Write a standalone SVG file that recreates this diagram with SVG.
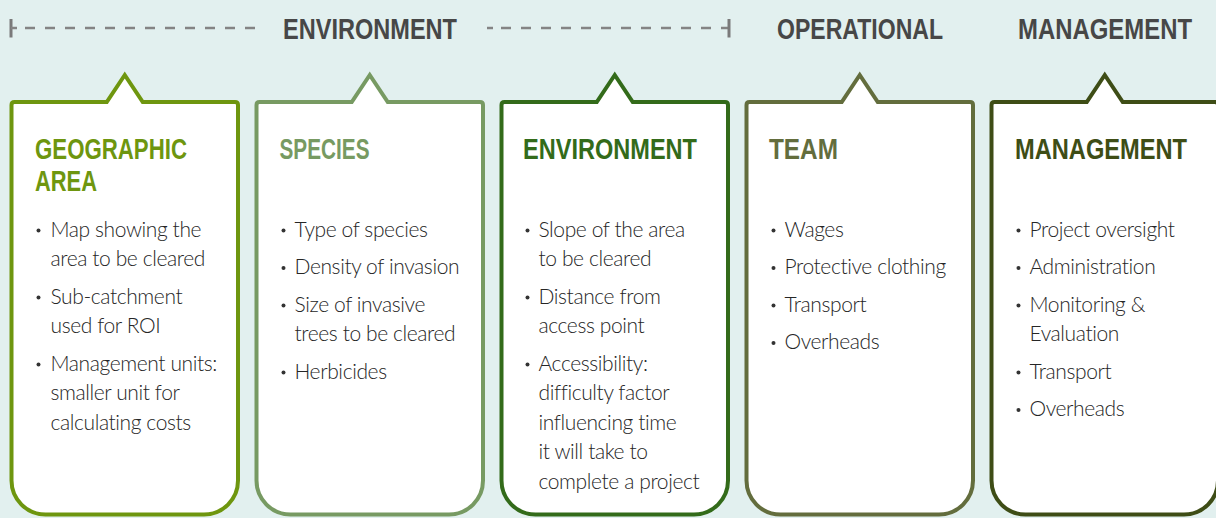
<svg xmlns="http://www.w3.org/2000/svg" width="1216" height="518" viewBox="0 0 1216 518">
  <style>
    .hdr { font-family: "Liberation Sans Narrow", "Liberation Sans", Arial, sans-serif; font-weight: bold; font-size: 29px; fill: #474747; }
    .ttl { font-family: "Liberation Sans Narrow", "Liberation Sans", Arial, sans-serif; font-weight: bold; font-size: 29px; }
    .txt { font-family: "Lato", "Open Sans", "Liberation Sans", sans-serif; font-weight: 300; font-size: 21px; letter-spacing: -0.4px; fill: #262626; }
    .card { fill: #ffffff; stroke-width: 4; stroke-linejoin: miter; }
    .dash { stroke: #848484; stroke-width: 2.5; fill: none; }
    .tick { stroke: #7a7a7a; stroke-width: 3; }
    .dot { fill: #333333; }
  </style>
  <defs>
    <!-- callout card: 226.5 wide, pointer tip on top centre -->
    <path id="card" d="M3,102 H95.25 L113.25,75 L131.25,102 H223.5 Q226.5,102 226.5,105 V480.5 A34 34 0 0 1 192.5,514.5 H34 A34 34 0 0 1 0,480.5 V105 Q0,102 3,102 Z"/>
  </defs>

  <rect width="1216" height="518" fill="#e2f0ef"/>

  <!-- header bands -->
  <g id="connectors">
    <line class="tick" x1="11" y1="19" x2="11" y2="37.5"/>
    <line class="dash" x1="11" y1="28" x2="17" y2="28"/>
    <line class="dash" x1="25" y1="28" x2="255" y2="28" stroke-dasharray="10 10"/>
    <line class="dash" x1="487" y1="28" x2="493" y2="28"/>
    <line class="dash" x1="501" y1="28" x2="729" y2="28" stroke-dasharray="10 10"/>
    <line class="tick" x1="729" y1="19" x2="729" y2="37.5"/>
  </g>
  <g id="headers">
    <text class="hdr" x="283" y="38.5" textLength="174" lengthAdjust="spacingAndGlyphs">ENVIRONMENT</text>
    <text class="hdr" x="777" y="38.5" textLength="166" lengthAdjust="spacingAndGlyphs">OPERATIONAL</text>
    <text class="hdr" x="1018" y="38.5" textLength="174" lengthAdjust="spacingAndGlyphs">MANAGEMENT</text>
  </g>

  <!-- Geographic area -->
  <g id="node-geographic" transform="translate(11.5,0)">
    <use href="#card" class="card" stroke="#6e960f"/>
    <text class="ttl" fill="#6e960f" x="23.5" y="158.5" textLength="152" lengthAdjust="spacingAndGlyphs">GEOGRAPHIC</text>
    <text class="ttl" fill="#6e960f" x="23.5" y="191" textLength="62" lengthAdjust="spacingAndGlyphs">AREA</text>
    <circle class="dot" cx="27" cy="230.5" r="2"/>
    <text class="txt" x="39" y="236.5">Map showing the</text>
    <text class="txt" x="39" y="266">area to be cleared</text>
    <circle class="dot" cx="27" cy="297.5" r="2"/>
    <text class="txt" x="39" y="303.5">Sub-catchment</text>
    <text class="txt" x="39" y="333">used for ROI</text>
    <circle class="dot" cx="27" cy="364.5" r="2"/>
    <text class="txt" x="39" y="370.5">Management units:</text>
    <text class="txt" x="39" y="400">smaller unit for</text>
    <text class="txt" x="39" y="429.5">calculating costs</text>
  </g>

  <!-- Species -->
  <g id="node-species" transform="translate(256.5,0)">
    <use href="#card" class="card" stroke="#779a62"/>
    <text class="ttl" fill="#779a62" x="23" y="158.5" textLength="90" lengthAdjust="spacingAndGlyphs">SPECIES</text>
    <circle class="dot" cx="27" cy="230.5" r="2"/>
    <text class="txt" x="38" y="236.5">Type of species</text>
    <circle class="dot" cx="27" cy="268" r="2"/>
    <text class="txt" x="38" y="274">Density of invasion</text>
    <circle class="dot" cx="27" cy="305.5" r="2"/>
    <text class="txt" x="38" y="311.5">Size of invasive</text>
    <text class="txt" x="38" y="341">trees to be cleared</text>
    <circle class="dot" cx="27" cy="372.5" r="2"/>
    <text class="txt" x="38" y="378.5">Herbicides</text>
  </g>

  <!-- Environment -->
  <g id="node-environment" transform="translate(501.5,0)">
    <use href="#card" class="card" stroke="#336b1a"/>
    <text class="ttl" fill="#336b1a" x="21.5" y="158.5" textLength="174" lengthAdjust="spacingAndGlyphs">ENVIRONMENT</text>
    <circle class="dot" cx="26" cy="230.5" r="2"/>
    <text class="txt" x="37" y="236.5">Slope of the area</text>
    <text class="txt" x="37" y="266">to be cleared</text>
    <circle class="dot" cx="26" cy="297.5" r="2"/>
    <text class="txt" x="37" y="303.5">Distance from</text>
    <text class="txt" x="37" y="333">access point</text>
    <circle class="dot" cx="26" cy="364.5" r="2"/>
    <text class="txt" x="37" y="370.5">Accessibility:</text>
    <text class="txt" x="37" y="400">difficulty factor</text>
    <text class="txt" x="37" y="429.5">influencing time</text>
    <text class="txt" x="37" y="459">it will take to</text>
    <text class="txt" x="37" y="488.5">complete a project</text>
  </g>

  <!-- Team -->
  <g id="node-team" transform="translate(746.5,0)">
    <use href="#card" class="card" stroke="#636d3d"/>
    <text class="ttl" fill="#636d3d" x="22.5" y="158.5" textLength="69" lengthAdjust="spacingAndGlyphs">TEAM</text>
    <circle class="dot" cx="27" cy="230.5" r="2"/>
    <text class="txt" x="38" y="236.5">Wages</text>
    <circle class="dot" cx="27" cy="268" r="2"/>
    <text class="txt" x="38" y="274">Protective clothing</text>
    <circle class="dot" cx="27" cy="305.5" r="2"/>
    <text class="txt" x="38" y="311.5">Transport</text>
    <circle class="dot" cx="27" cy="343" r="2"/>
    <text class="txt" x="38" y="349">Overheads</text>
  </g>

  <!-- Management -->
  <g id="node-management" transform="translate(991.5,0)">
    <use href="#card" class="card" stroke="#3e4d16"/>
    <text class="ttl" fill="#3e4d16" x="23.5" y="158.5" textLength="172" lengthAdjust="spacingAndGlyphs">MANAGEMENT</text>
    <circle class="dot" cx="27" cy="230.5" r="2"/>
    <text class="txt" x="38" y="236.5">Project oversight</text>
    <circle class="dot" cx="27" cy="268" r="2"/>
    <text class="txt" x="38" y="274">Administration</text>
    <circle class="dot" cx="27" cy="305.5" r="2"/>
    <text class="txt" x="38" y="311.5">Monitoring &amp;</text>
    <text class="txt" x="38" y="341">Evaluation</text>
    <circle class="dot" cx="27" cy="372.5" r="2"/>
    <text class="txt" x="38" y="378.5">Transport</text>
    <circle class="dot" cx="27" cy="410" r="2"/>
    <text class="txt" x="38" y="416">Overheads</text>
  </g>
</svg>
